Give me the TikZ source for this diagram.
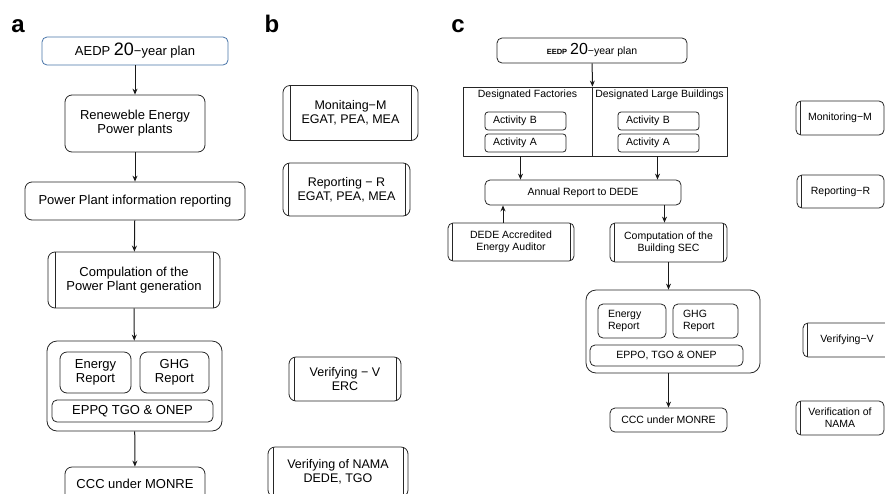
\documentclass[tikz,border=0pt]{standalone}
\usepackage{fontspec}
\setmainfont{Liberation Sans}
\usetikzlibrary{arrows.meta}
\definecolor{planblue}{RGB}{72,116,168}
\tikzset{
  box/.style={draw=black!85,line width=0.8pt,rounded corners=7pt,align=center,inner sep=0pt},
  sbox/.style={box,rounded corners=5pt},
  wh/.style 2 args={minimum width=#1pt,minimum height=#2pt},
  proc/.style={box,path picture={
      \draw[black!85,line width=0.8pt] ([xshift=#1]path picture bounding box.north west)--([xshift=#1]path picture bounding box.south west);
      \draw[black!85,line width=0.8pt] ([xshift=-#1]path picture bounding box.north east)--([xshift=-#1]path picture bounding box.south east);}},
  proc/.default=6pt,
  lproc/.style={sbox,path picture={
      \draw[black!85,line width=0.8pt] ([xshift=4pt]path picture bounding box.north west)--([xshift=4pt]path picture bounding box.south west);}},
  frame/.style={draw=black!85,line width=0.8pt,inner sep=0pt},
  act/.style={sbox,rounded corners=3pt,text width=65pt,inner xsep=8pt,minimum height=18pt,align=left},
  lbl/.style={font=\fontsize{24}{24}\selectfont\bfseries,anchor=base,inner sep=0pt},
  fb/.style={font=\fontsize{12.5}{14}\selectfont},
  fc/.style={font=\fontsize{10.5}{12}\selectfont},
  link/.style={->,black!90,line width=1pt}
}
\begin{document}
\begin{tikzpicture}[x=1pt,y=-1pt,>={Stealth[length=6pt,width=5pt]},line join=round,font=\fontsize{13}{14}\selectfont]
\useasboundingbox (0,0) rectangle (885,493);
% panel a
\node[lbl] (la) at (18,32) {a};
\node[box,draw=planblue,rounded corners=5pt,wh={186}{28}] (aedp) at (135,51) {AEDP {\fontsize{18}{18}\selectfont 20}−year plan};
\node[box,wh={140}{57}] (ren) at (135,123.5) {Reneweble Energy\\Power plants};
\node[box,wh={220}{38}] (info) at (135,201) {Power Plant information reporting};
\node[proc=7pt,wh={172}{56}] (comp) at (134,280) {Compulation of the\\Power Plant generation};
\node[box,rounded corners=10pt,wh={175}{90}] (rep) at (134.5,386) {};
\node[box,wh={71}{41}] (ener) at (95.5,372.5) {Energy\\Report};
\node[box,wh={69}{41}] (ghg) at (174.5,372.5) {GHG\\Report};
\node[sbox,wh={161}{22}] (eppq) at (132.5,411) {EPPQ TGO \& ONEP};
\node[box,wh={140}{34}] (ccc) at (135,484) {CCC under MONRE};
\draw[link] (aedp) -- (ren);
\draw[link] (ren) -- (info);
\draw[link] (info) -- (comp);
\draw[link] (comp) -- (rep);
\draw[link] (rep) -- (ccc);
% panel b
\node[lbl] (lb) at (272,32) {b};
\node[proc=7pt,fb,wh={135}{55}] (mon) at (350.5,113) {Monitaing−M\\EGAT, PEA, MEA};
\node[proc=5pt,fb,wh={127}{53}] (repo) at (346.5,189.5) {Reporting − R\\EGAT, PEA, MEA};
\node[proc=5pt,fb,wh={112}{44}] (ver) at (345,379) {Verifying − V\\ERC};
\node[proc=5pt,fb,wh={140}{50}] (nama) at (338,472) {Verifying of NAMA\\DEDE, TGO};
% panel c
\node[lbl] (lc) at (458,32) {c};
\node[sbox,fc,wh={190}{25}] (eedp) at (592,50.5) {{\fontsize{7.5}{8}\selectfont\bfseries EEDP} {\fontsize{16}{16}\selectfont 20}−year plan};
\node[frame,wh={129}{69},label={[anchor=north,yshift=-3pt,inner sep=0pt,fc]north:Designated Factories}] (fac) at (527.5,121.5) {};
\node[frame,wh={135}{69},label={[anchor=north,yshift=-3pt,inner sep=0pt,fc]north:Designated Large Buildings}] (bld) at (659.5,121.5) {};
\node[act,fc] (fb) at (525.5,121) {Activity B};
\node[act,fc] (fa) at (525.5,143) {Activity A};
\node[act,fc] (bb) at (658.5,121) {Activity B};
\node[act,fc] (ba) at (658.5,143) {Activity A};
\node[sbox,fc,wh={196}{25}] (ann) at (583,192.5) {Annual Report to DEDE};
\node[proc=4pt,fc,rounded corners=5pt,wh={126}{38}] (aud) at (511,242) {DEDE Accredited\\Energy Auditor};
\node[proc=4pt,fc,rounded corners=5pt,wh={117}{39}] (sec) at (668.5,242.5) {Computation of the\\Building SEC};
\node[box,rounded corners=10pt,wh={174}{83}] (crep) at (673,331.5) {};
\node[sbox,fc,text width=48pt,inner xsep=10pt,minimum height=34pt,align=left] (cener) at (632,321) {Energy\\Report};
\node[sbox,fc,text width=45pt,inner xsep=10pt,minimum height=34pt,align=left] (cghg) at (705.5,321) {GHG\\Report};
\node[sbox,fc,wh={153}{21}] (eppo) at (666.5,355.5) {EPPO, TGO \& ONEP};
\node[sbox,fc,wh={117}{24}] (cccc) at (668.5,420) {CCC under MONRE};
\draw[link] (eedp) -- (fac.north east);
\draw[link] ([xshift=-7pt]fac.south) -- ([xshift=-7pt]fac.south |- ann.north);
\draw[link] ([xshift=-2pt]bld.south) -- ([xshift=-2pt]bld.south |- ann.north);
\draw[link] ([xshift=-8pt]aud.north) -- ([xshift=-8pt]aud.north |- ann.south);
\draw[link] ([xshift=-4pt]sec.north |- ann.south) -- ([xshift=-4pt]sec.north);
\draw[link] (sec.south) -- (sec.south |- crep.north);
\draw[link] (cccc.north |- crep.south) -- (cccc.north);
% right column
\node[lproc,fc,wh={88}{34}] (rmon) at (840,118) {Monitoring−M};
\node[lproc,fc,wh={87}{33}] (rrep) at (840.5,191.5) {Reporting−R};
\node[lproc,fc,wh={88}{34}] (rver) at (847,340) {Verifying−V};
\node[lproc,fc,wh={88}{34}] (rnama) at (840,418) {Verification of\\NAMA};
\end{tikzpicture}
\end{document}
